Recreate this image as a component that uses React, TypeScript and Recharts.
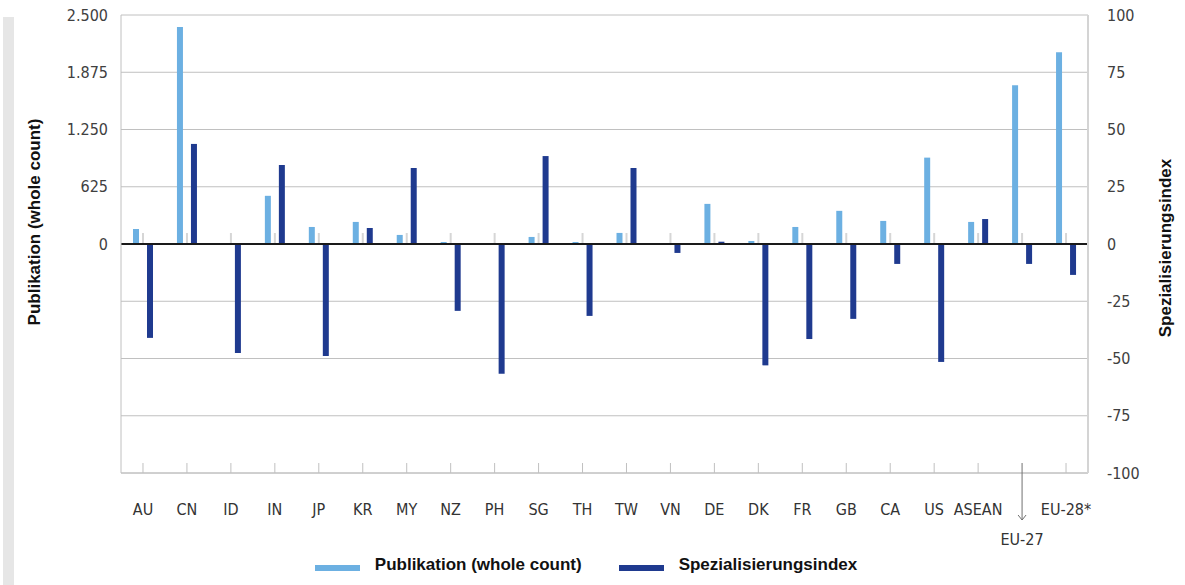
import React from 'react';
import {
  BarChart, Bar, XAxis, YAxis, CartesianGrid, ReferenceLine, Legend
} from 'recharts';

const categories = ['AU', 'CN', 'ID', 'IN', 'JP', 'KR', 'MY', 'NZ', 'PH', 'SG', 'TH', 'TW', 'VN', 'DE', 'DK', 'FR', 'GB', 'CA', 'US', 'ASEAN', 'EU-27', 'EU-28*'];
const publications = [164, 2368, 10, 526, 186, 241, 99, 22, 4, 77, 22, 121, 5, 438, 33, 186, 362, 252, 943, 241, 1732, 2093];
const specIndex = [-41, 43.7, -47.6, 34.5, -48.9, 7, 33.2, -29.2, -56.7, 38.4, -31.4, 33.2, -3.9, 1, -53, -41.5, -32.7, -8.7, -51.5, 10.9, -8.7, -13.5];
const spacer = [120, 120, 120, 120, 120, 120, 120, 120, 120, 120, 120, 120, 120, 120, 120, 120, 120, 120, 120, 120, 120, 120];

const leftTicks = [0, 625, 1250, 1875, 2500];
const rightTicks = [-100, -75, -50, -25, 0, 25, 50, 75, 100];

const LIGHT = '#6cb0e2';
const DARK = '#1f3a8f';
const GRID = '#c0c0c0';
const TICK_FONT = '"Liberation Sans Narrow", "DejaVu Sans Condensed", "Liberation Sans", sans-serif';
const TITLE_FONT = '"Liberation Sans", Arial, sans-serif';

const data = categories.map((name, i) => ({
  name,
  pub: publications[i],
  spacer: spacer[i],
  idx: specIndex[i],
}));

// 2500 -> "2.500"
const deNumber = (v: number) => String(v).replace(/\B(?=(\d{3})+(?!\d))/g, '.');

const CategoryTick = (props: any) => {
  const { x, y, payload } = props;
  const arrow = payload.value === 'EU-27';
  return (
    <g>
      <line x1={x} x2={x} y1={y - 10} y2={arrow ? y + 47 : y} stroke={arrow ? '#707070' : GRID} strokeWidth={1} />
      {arrow && (
        <polyline points={`${x - 4},${y + 42} ${x},${y + 47} ${x + 4},${y + 42}`} fill="none" stroke="#707070" strokeWidth={1} />
      )}
      <text x={x} y={arrow ? y + 72 : y + 42} textAnchor="middle" fontSize={16} fill="#333" fontFamily={TICK_FONT}>
        {payload.value}
      </text>
    </g>
  );
};

const LegendContent = () => (
  <div style={{ display: 'flex', justifyContent: 'center', alignItems: 'center', height: 40, paddingRight: 13, fontFamily: TITLE_FONT, fontWeight: 'bold', fontSize: 17, color: '#111' }}>
    <span style={{ display: 'inline-block', width: 45, height: 6, background: LIGHT, marginRight: 15, marginTop: 6 }} />
    <span style={{ marginRight: 37 }}>Publikation (whole count)</span>
    <span style={{ display: 'inline-block', width: 45, height: 6, background: DARK, marginRight: 15, marginTop: 6 }} />
    <span>Spezialisierungsindex</span>
  </div>
);

export default function App() {
  return (
    <div style={{ position: 'absolute', left: 0, top: 0, width: 1185, height: 585, background: '#fff' }}>
      <div style={{ position: 'absolute', left: 3, top: 17, width: 11, height: 568, background: '#e6e6e6' }} />
      <BarChart
        width={1185}
        height={585}
        data={data}
        margin={{ top: 15, right: 0, bottom: 0, left: 0 }}
        barGap={3}
        barCategoryGap={0}
      >
        <CartesianGrid yAxisId="right" vertical={false} stroke={GRID} />
        <XAxis
          dataKey="name"
          height={72}
          axisLine={{ stroke: GRID }}
          tickLine={false}
          tickSize={0}
          tickMargin={0}
          interval={0}
          tick={<CategoryTick />}
        />
        <YAxis
          yAxisId="left"
          orientation="left"
          width={121}
          domain={[-2500, 2500]}
          ticks={leftTicks}
          tickFormatter={deNumber}
          axisLine={{ stroke: GRID }}
          tickLine={false}
          tickSize={0}
          tickMargin={13}
          tick={{ fontSize: 16, fill: '#404040', fontFamily: TICK_FONT }}
          label={({ viewBox }: any) => (
            <text
              transform={`translate(${viewBox.x + 34}, ${viewBox.y + viewBox.height / 2 - 22}) rotate(-90)`}
              textAnchor="middle"
              dominantBaseline="central"
              fontSize={17}
              fontWeight="bold"
              fontFamily={TITLE_FONT}
              fill="#111"
            >
              Publikation (whole count)
            </text>
          )}
        />
        <YAxis
          yAxisId="right"
          orientation="right"
          width={97}
          domain={[-100, 100]}
          ticks={rightTicks}
          axisLine={{ stroke: '#d4d4d4', strokeWidth: 2 }}
          tickLine={false}
          tickSize={0}
          tickMargin={19}
          tick={{ fontSize: 16, fill: '#404040', fontFamily: TICK_FONT }}
          label={({ viewBox }: any) => (
            <text
              transform={`translate(${viewBox.x + 77}, ${viewBox.y + viewBox.height / 2 + 4}) rotate(-90)`}
              textAnchor="middle"
              dominantBaseline="central"
              fontSize={17}
              fontWeight="bold"
              fontFamily={TITLE_FONT}
              fill="#111"
            >
              Spezialisierungsindex
            </text>
          )}
        />
        <Legend verticalAlign="bottom" height={40} wrapperStyle={{ height: 40 }} content={<LegendContent />} />
        <Bar yAxisId="left" dataKey="pub" name="Publikation (whole count)" fill={LIGHT} barSize={6} isAnimationActive={false} />
        <Bar yAxisId="left" dataKey="spacer" legendType="none" fill="#d6d6d6" barSize={2} isAnimationActive={false} />
        <Bar yAxisId="right" dataKey="idx" name="Spezialisierungsindex" fill={DARK} barSize={6} isAnimationActive={false} />
        <ReferenceLine yAxisId="right" y={0} stroke="#1a1a1a" strokeWidth={2} />
      </BarChart>
    </div>
  );
}
